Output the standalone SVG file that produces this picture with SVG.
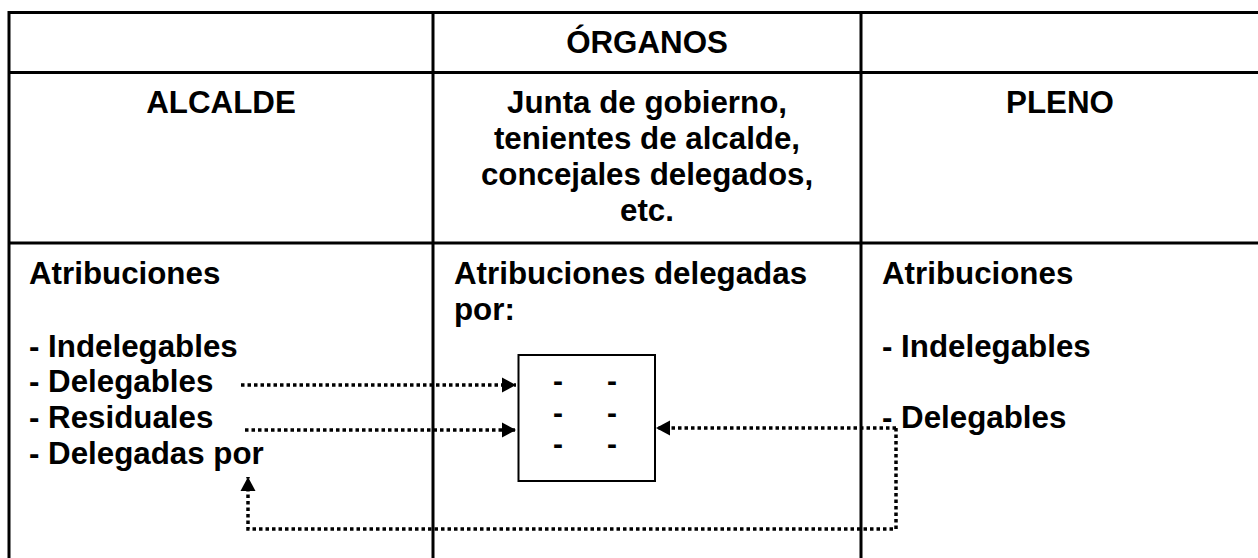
<svg xmlns="http://www.w3.org/2000/svg" width="1258" height="558" viewBox="0 0 1258 558">
<style>
.t{font-family:"Liberation Sans",Arial,sans-serif;font-weight:bold;font-size:31.3px;fill:#000}
.c{text-anchor:middle}
.d{font-family:"Liberation Sans",Arial,sans-serif;font-weight:bold;font-size:30px;fill:#000;text-anchor:middle}
.grid{stroke:#000;stroke-width:3;fill:none}
.dot{stroke:#000;stroke-width:3.5;stroke-dasharray:3.5 3;fill:none}
</style>
<defs>
<marker id="ah" markerUnits="userSpaceOnUse" markerWidth="15" markerHeight="16" refX="14" refY="8" orient="auto">
<path d="M0,0.5 L14,8 L0,15.5 Z" fill="#000"/>
</marker>
</defs>
<rect width="1258" height="558" fill="#fff"/>
<g id="table" class="grid">
<line x1="9" y1="12.5" x2="1258" y2="12.5"/>
<line x1="9" y1="72.5" x2="1258" y2="72.5"/>
<line x1="9" y1="243" x2="1258" y2="243"/>
<line x1="9" y1="11" x2="9" y2="558"/>
<line x1="433" y1="11" x2="433" y2="558"/>
<line x1="861" y1="11" x2="861" y2="558"/>
</g>
<g id="header">
<text class="t c" x="647" y="53">ÓRGANOS</text>
</g>
<g id="alcalde">
<text class="t c" x="221" y="113">ALCALDE</text>
<text class="t" x="29" y="284">Atribuciones</text>
<text class="t" x="29" y="357">- Indelegables</text>
<text class="t" x="29" y="392">- Delegables</text>
<text class="t" x="29" y="428">- Residuales</text>
<text class="t" x="29" y="464">- Delegadas por</text>
</g>
<g id="organos">
<text class="t c" x="647" y="113">Junta de gobierno,</text>
<text class="t c" x="647" y="149">tenientes de alcalde,</text>
<text class="t c" x="647" y="185">concejales delegados,</text>
<text class="t c" x="647" y="221">etc.</text>
<text class="t" x="454" y="284">Atribuciones delegadas</text>
<text class="t" x="454" y="320">por:</text>
</g>
<g id="pleno">
<text class="t c" x="1060" y="113">PLENO</text>
<text class="t" x="882" y="284">Atribuciones</text>
<text class="t" x="882" y="357">- Indelegables</text>
<text class="t" x="882" y="428">- Delegables</text>
</g>
<g id="box">
<rect x="518.5" y="355" width="136.5" height="126" fill="none" stroke="#000" stroke-width="2"/>
<text class="d" x="558" y="391">-</text>
<text class="d" x="612" y="391">-</text>
<text class="d" x="558" y="423">-</text>
<text class="d" x="612" y="423">-</text>
<text class="d" x="558" y="454">-</text>
<text class="d" x="612" y="454">-</text>
</g>
<g id="connectors">
<line class="dot" x1="241" y1="385" x2="516" y2="385" marker-end="url(#ah)"/>
<line class="dot" x1="245" y1="430" x2="516" y2="430" marker-end="url(#ah)"/>
<polyline class="dot" points="896,428 896,529 248,529 248,477" marker-end="url(#ah)"/>
<line class="dot" x1="896" y1="428" x2="656" y2="428" marker-end="url(#ah)"/>
</g>
</svg>
